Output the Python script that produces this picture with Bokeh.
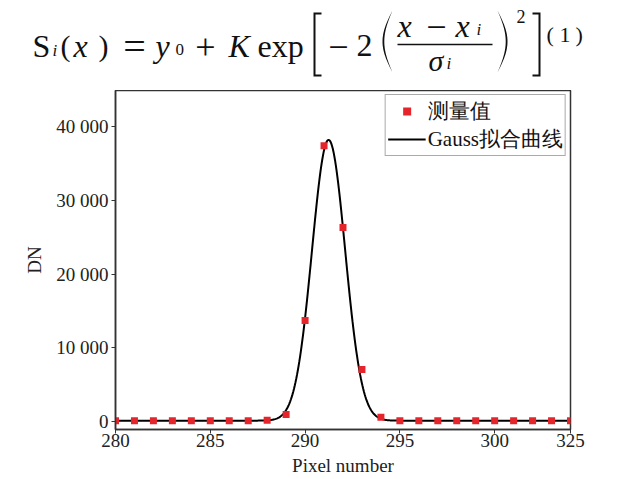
import numpy as np
from bokeh.plotting import figure
from bokeh.models import Range1d, FixedTicker, Legend, LegendItem
from bokeh.layouts import column, row
from bokeh.core.properties import value
from bokeh.embed import file_html
from bokeh.resources import INLINE

# ---------------- data ----------------
pixel = [280, 281, 282, 283, 284, 285, 286, 287, 288, 289, 290, 291, 292,
         293, 294, 295, 296, 297, 298, 299, 300, 301, 302, 303, 304]
dn = [100, 100, 100, 100, 100, 80, 100, 100, 150, 950, 13700, 37400, 26300,
      7050, 550, 100, 100, 100, 100, 100, 100, 100, 100, 100, 100]

# Gauss fit parameters  S(x) = y0 + K exp[-2((x - xi)/sigma)^2]
fit_y0 = 100
fit_K = 38100
fit_xi = 291.24
fit_sigma = 1.75

x_ticks = [280, 285, 290, 295, 300, 304]
x_tick_labels = ["280", "285", "290", "295", "300", "325"]
y_ticks = [0, 10000, 20000, 30000, 40000]
y_tick_labels = ["0", "10 000", "20 000", "30 000", "40 000"]

legend_labels = ["测量值", "Gauss拟合曲线"]
x_label = "Pixel number"
y_label = "DN"

SERIF = "Liberation Serif"
W, H = 625, 479
TOP_H = 90                              # height of the formula strip
FL, FR, FT, FB = 115, 570, 90, 429      # frame edges in page px
TEXT_DY = -8                            # baseline correction for formula texts

# ---------------- formula strip ----------------
f = figure(width=W, height=TOP_H, x_range=Range1d(0, W), y_range=Range1d(TOP_H, 0),
           x_axis_type=None, y_axis_type=None, toolbar_location=None,
           output_backend="svg", min_border=0, outline_line_color=None)
f.grid.visible = False
f.title.visible = False

# (x, baseline y, text, size, style, align)
pieces = [
    (32, 53, "S", 32, "normal", "left"),
    (52, 58, "i", 17, "italic", "left"),
    (60, 53, "(", 30, "normal", "left"),
    (73, 53, "x", 32, "italic", "left"),
    (98, 53, ")", 30, "normal", "left"),
    (134, 54, "=", 40, "normal", "center"),
    (155, 53, "y", 32, "italic", "left"),
    (175, 57, "0", 17, "normal", "left"),
    (205, 54, "+", 36, "normal", "center"),
    (228, 53, "K", 32, "italic", "left"),
    (257, 53, "exp", 32, "normal", "left"),
    (338, 54, "−", 36, "normal", "center"),
    (356, 53, "2", 32, "normal", "left"),
    (397, 33, "x", 32, "italic", "left"),
    (436, 34, "−", 36, "normal", "center"),
    (455, 33, "x", 32, "italic", "left"),
    (476, 37, "i", 17, "italic", "left"),
    (428, 68, "σ", 30, "italic", "left"),
    (446, 71, "i", 17, "italic", "left"),
    (516, 24, "2", 18, "normal", "left"),
    (546, 42, "(", 22, "normal", "left"),
    (559, 42, "1", 22, "normal", "left"),
    (575, 42, ")", 22, "normal", "left"),
]
groups = sorted({(pc[3], pc[4], pc[5]) for pc in pieces})
for (sz, st, al) in groups:
    sel = [pc for pc in pieces if (pc[3], pc[4], pc[5]) == (sz, st, al)]
    f.text(x=[pc[0] for pc in sel], y=[pc[1] + TEXT_DY for pc in sel], text=[pc[2] for pc in sel],
           text_font=value(SERIF), text_font_size=f"{sz}px", text_font_style=st,
           text_color="#111", text_baseline="alphabetic", text_align=al)

def paren(x_end, top, bottom, bulge, thick, left=True):
    t = np.linspace(0, 1, 40)
    sgn = -1 if left else 1
    xs = [x_end + sgn * bulge * np.sin(np.pi * v) for v in t] + \
         [x_end + sgn * (bulge - thick) * np.sin(np.pi * v) for v in t[::-1]]
    ys = [top + v * (bottom - top) for v in t] + [top + v * (bottom - top) for v in t[::-1]]
    return xs, ys

shapes_x, shapes_y = [], []
# square brackets
shapes_x.append([321, 313, 313, 321, 321, 315, 315, 321]); shapes_y.append([12, 12, 76, 76, 74, 74, 14, 14])
shapes_x.append([532, 540, 540, 532, 532, 538, 538, 532]); shapes_y.append([12, 12, 76, 76, 74, 74, 14, 14])
# fraction bar
shapes_x.append([397, 492, 492, 397]); shapes_y.append([43.3, 43.3, 44.8, 44.8])
# tall thin parentheses
for xe, lf in ((392, True), (497, False)):
    a, b = paren(xe, 10, 72, 10, 1.8, left=lf)
    shapes_x.append(a); shapes_y.append(b)
f.patches(shapes_x, shapes_y, fill_color="#111", line_color=None)

# ---------------- main chart ----------------
p = figure(width=W, height=H - TOP_H, x_range=Range1d(280, 304), y_range=Range1d(-1100, 44900),
           toolbar_location=None, output_backend="svg",
           min_border_left=FL, min_border_right=W - FR, min_border_top=FT - TOP_H,
           min_border_bottom=H - FB)
p.grid.visible = False
p.outline_line_color = "#333"
p.outline_line_width = 1.5

xc = np.linspace(280, 304, 600)
yc = fit_y0 + fit_K * np.exp(-2 * ((xc - fit_xi) / fit_sigma) ** 2)

r_line = p.line(xc, yc, line_color="black", line_width=2)
r_pts = p.scatter(pixel, dn, marker="square", size=7, fill_color="#e4262c", line_color=None)

for ax in (p.xaxis[0], p.yaxis[0]):
    ax.axis_line_color = "#333"
    ax.axis_line_width = 1.5
    ax.major_tick_line_color = "#333"
    ax.major_tick_out = 4
    ax.major_tick_in = 0
    ax.minor_tick_line_color = None
    ax.major_label_text_font = SERIF
    ax.major_label_text_font_size = "19px"
    ax.major_label_text_color = "#222"
    ax.axis_label_text_font = SERIF
    ax.axis_label_text_font_size = "19px"
    ax.axis_label_text_font_style = "normal"
    ax.axis_label_text_color = "#222"

p.xaxis.ticker = FixedTicker(ticks=x_ticks)
p.xaxis.major_label_overrides = {t: l for t, l in zip(x_ticks, x_tick_labels)}
p.xaxis.major_label_standoff = 0
p.xaxis.axis_label = x_label
p.xaxis.axis_label_standoff = 5

p.yaxis.ticker = FixedTicker(ticks=y_ticks)
p.yaxis.major_label_overrides = {t: l for t, l in zip(y_ticks, y_tick_labels)}
p.yaxis.major_label_standoff = 3
p.yaxis.axis_label = y_label
p.yaxis.axis_label_standoff = 8

legend = Legend(items=[LegendItem(label=legend_labels[0], renderers=[r_pts]),
                       LegendItem(label=legend_labels[1], renderers=[r_line])],
                location="top_right", margin=4, padding=2, spacing=0,
                glyph_width=38, glyph_height=20, label_height=20, label_standoff=2,
                label_text_font=SERIF, label_text_font_size="21px", label_text_color="#111",
                label_text_line_height=0.85,
                border_line_color="#555", border_line_width=1.2,
                background_fill_alpha=1.0)
p.add_layout(legend)

layout = column(row(f), p, spacing=0)
open("out.html", "w").write(file_html(layout, INLINE))
